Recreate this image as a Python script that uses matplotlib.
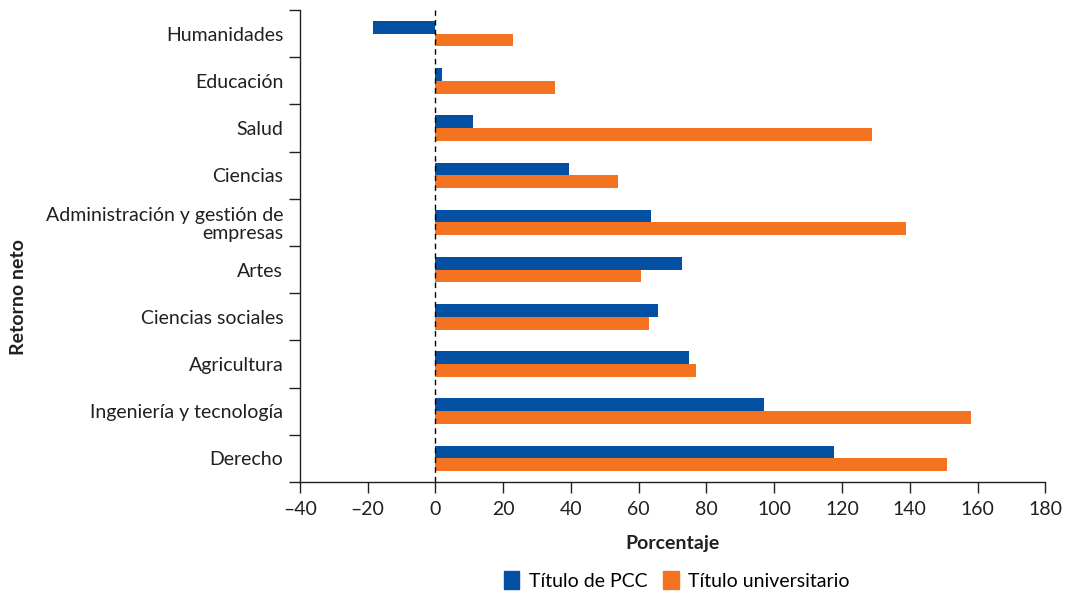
import matplotlib
matplotlib.use('Agg')
import matplotlib.pyplot as plt
import numpy as np
from matplotlib.patches import Patch

plt.rcParams['font.family'] = ['Lato', 'DejaVu Sans']

categorias = ['Humanidades', 'Educación', 'Salud', 'Ciencias',
              'Administración y gestión de\nempresas', 'Artes', 'Ciencias sociales',
              'Agricultura', 'Ingeniería y tecnología', 'Derecho']
pcc = [-18.3, 2, 11, 39.3, 63.5, 72.7, 65.6, 74.7, 96.9, 117.6]
universitario = [23, 35.4, 128.8, 54, 138.8, 60.6, 62.9, 76.8, 158, 151]
xticks = [-40, -20, 0, 20, 40, 60, 80, 100, 120, 140, 160, 180]

azul = '#0350a3'
naranja = '#f37321'

fig = plt.figure(figsize=(10.71, 5.95), dpi=100)
ax = fig.add_axes([0.28, 0.19, 0.696, 0.793])

y = np.arange(len(categorias))
h = 0.27
ax.barh(y - h / 2, pcc, height=h, color=azul, label='Título de PCC')
ax.barh(y + h / 2, universitario, height=h, color=naranja, label='Título universitario')
ax.axvline(0, color='black', lw=1, ls=(0, (4, 3)))

ax.set_ylim(len(categorias) - 0.5, -0.5)
ax.set_xlim(-40, 180)
ax.set_xticks(xticks)
ax.set_xticklabels([str(t).replace('-', '\u2013') for t in xticks], fontsize=14, color='#231f20')

ax.set_yticks(y)
ax.set_yticklabels(categorias, fontsize=14, color='#231f20', ha='right', multialignment='right',
                   linespacing=1.1)
ax.tick_params(axis='y', length=0, pad=12)
ax.set_yticks(np.arange(len(categorias) + 1) - 0.5, minor=True)
ax.tick_params(axis='y', which='minor', length=8, width=1, color='#231f20')
ax.tick_params(axis='x', length=8, width=1, color='#231f20', pad=6)

for s in ['top', 'right']:
    ax.spines[s].set_visible(False)
for s in ['left', 'bottom']:
    ax.spines[s].set_color('#231f20')
    ax.spines[s].set_linewidth(1)

ax.set_xlabel('Porcentaje', fontsize=14, fontweight='bold', color='#231f20', labelpad=12)
fig.text(0.017, 0.5, 'Retorno neto', rotation=90, fontsize=14, fontweight='bold',
         color='#231f20', ha='center', va='center')

handles = [Patch(color=azul, label='Título de PCC'), Patch(color=naranja, label='Título universitario')]
fig.legend(handles=handles, loc='center', bbox_to_anchor=(0.632, 0.025), ncol=2, frameon=False,
           fontsize=14, handlelength=0.8, handleheight=1.1, handletextpad=0.5, columnspacing=0.8)

fig.savefig('out.png', dpi=100)
